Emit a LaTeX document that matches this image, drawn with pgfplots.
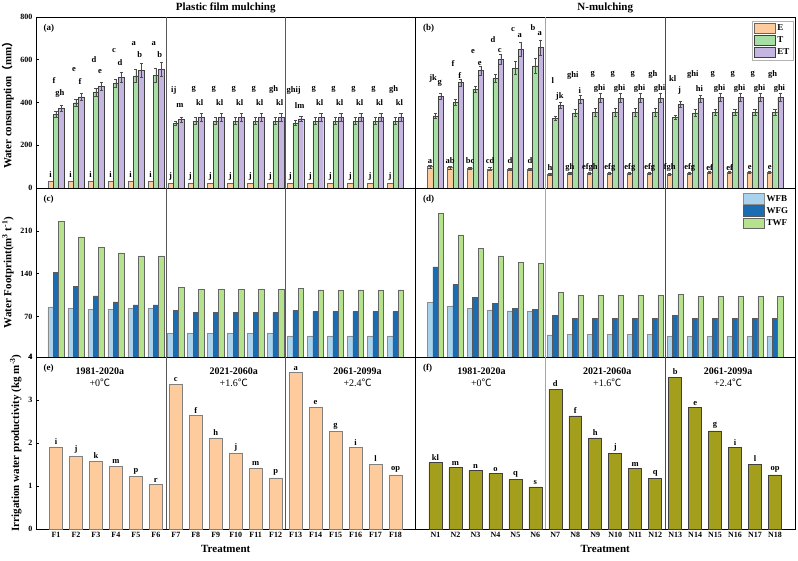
\documentclass[border=0pt]{standalone}
\usepackage{pgfplots}
\pgfplotsset{compat=1.18}
\usepackage{pgfplotstable}
\usepackage{fontspec}
\setmainfont{Liberation Serif}
\newfontfamily\cjk{Noto Sans CJK SC}

\definecolor{cE}{HTML}{FDCB9C}
\definecolor{cT}{HTML}{A6DEA3}
\definecolor{cET}{HTML}{C4B5E1}
\definecolor{cWFB}{HTML}{A9D3EC}
\definecolor{cWFG}{HTML}{1B6DB3}
\definecolor{cTWF}{HTML}{B5E28C}
\definecolor{cIF}{HTML}{FDCB9C}
\definecolor{cIN}{HTML}{A39E1C}

\pgfplotstableread{
x E T ET Terr ETerr
1 30 345 373 16 16
2 30 399 426 17 17
3 30 448 476 18 18
4 30 490 518 20 22
5 30 524 552 30 33
6 30 528 555 33 33
7 22 302 321 10 12
8 22 313 331 17 17
9 22 313 331 17 17
10 22 313 331 17 17
11 22 313 331 17 17
12 22 313 331 17 17
13 22 305 324 10 13
14 22 313 331 17 17
15 22 313 331 17 17
16 22 313 331 17 17
17 22 313 331 17 17
18 22 313 331 17 17
}\dataA

\pgfplotstableread{
x yE lE yT lT yET lET
1 62 i 505 f 440 gh
2 62 i 552 e 497 f
3 62 i 602 d 543 e
4 62 i 645 c 588 d
5 62 i 677 a 622 b
6 62 i 677 a 622 b
7 55 j 455 ij 384 m
8 55 j 462 g 401 kl
9 55 j 462 g 401 kl
10 55 j 462 g 401 kl
11 55 j 462 g 401 kl
12 55 j 462 gh 401 kl
13 55 j 458 ghij 388 lm
14 55 j 462 g 401 kl
15 55 j 462 g 401 kl
16 55 j 462 g 401 kl
17 55 j 462 g 401 kl
18 55 j 462 gh 401 kl
}\labA

\pgfplotstableread{
x E T ET Eerr Terr ETerr
1 100 337 430 6 13 15
2 95 401 494 6 15 17
3 93 462 549 6 15 20
4 90 513 602 6 17 22
5 87 561 649 6 30 33
6 87 572 658 6 33 35
7 65 326 387 5 10 13
8 67 352 415 5 15 17
9 69 355 421 5 18 20
10 69 355 421 5 18 20
11 69 355 421 5 18 20
12 69 355 421 5 18 20
13 65 332 393 5 10 15
14 70 352 418 5 15 18
15 72 355 424 5 15 18
16 72 355 424 5 15 18
17 72 355 424 5 15 18
18 72 355 424 5 15 18
}\dataB

\pgfplotstableread{
x yE lE yT lT yET lET
1 126 a 513 jk 490 g
2 126 ab 583 f 528 f
3 126 bc 638 e 583 e
4 126 cd 695 d 645 c
5 126 d 742 c 713 a
6 126 d 751 b 723 a
7 95 h 505 l 427 jk
8 95 gh 528 ghi 458 i
9 95 efgh 533 g 466 ghi
10 95 efg 533 g 466 ghi
11 95 efg 533 g 466 ghi
12 95 efg 533 gh 466 ghi
13 95 fgh 513 kl 455 j
14 95 efg 533 ghi 466 hi
15 95 ef 533 g 466 ghi
16 95 ef 533 g 466 ghi
17 95 e 533 g 466 ghi
18 95 e 533 gh 466 ghi
}\labB

\pgfplotstableread{
x WFB WFG TWF
1 86 142 225
2 83.5 119 200
3 82 104 183
4 82 94 174
5 83 89 169
6 83 89 169
7 42 80 118
8 42 76.5 115
9 42 76.5 115
10 42 76.5 115
11 42 76.5 115
12 42 76.5 115
13 38.5 80 115.5
14 38.5 78 113.5
15 38.5 78 113.5
16 38.5 78 113.5
17 38.5 78 113.5
18 38.5 78 113.5
}\dataC

\pgfplotstableread{
x WFB WFG TWF
1 92.6 151 238
2 87.6 122 203.5
3 83 101 181
4 81 91 169
5 79.3 83 159
6 78.8 81.5 157
7 40 71.5 110
8 40.7 66.7 105
9 40.7 66.7 105
10 40.7 66.7 105
11 40.7 66.7 105
12 40.7 66.7 105
13 37.4 71.6 106
14 37.4 67.2 103
15 37.4 67.2 103
16 37.4 67.2 103
17 37.4 67.2 103
18 37.4 67.2 103
}\dataD

\pgfplotstableread{
x v l
1 1.91 i
2 1.70 j
3 1.58 k
4 1.46 m
5 1.23 p
6 1.03 r
7 3.37 c
8 2.64 f
9 2.12 h
10 1.76 j
11 1.42 m
12 1.19 p
13 3.64 a
14 2.83 e
15 2.27 g
16 1.89 i
17 1.51 l
18 1.26 op
}\dataE

\pgfplotstableread{
x v l
1 1.54 kl
2 1.43 m
3 1.36 n
4 1.29 o
5 1.15 q
6 0.98 s
7 3.25 d
8 2.63 f
9 2.12 h
10 1.76 j
11 1.41 m
12 1.18 q
13 3.53 b
14 2.82 e
15 2.28 g
16 1.90 i
17 1.51 l
18 1.26 op
}\dataF

\pgfplotsset{
  panel/.style={
    scale only axis, width=379.5pt, xmin=0, xmax=19,
    xtick={1,...,18}, xticklabels={}, tick align=inside,
    xtick pos=bottom, ytick pos=left,
    major tick length=3pt, tick style={black, line width=0.5pt},
    axis line style={black, line width=0.6pt},
    tick label style={font=\bfseries\fontsize{8}{9}\selectfont},
    /pgf/number format/assume math mode=true,
    ylabel style={font=\bfseries\fontsize{11}{12}\selectfont},
    xlabel style={font=\bfseries\fontsize{11}{12}\selectfont},
    legend image code/.code={\draw[##1] (0pt,-5pt) rectangle (21pt,5.5pt);},
  },
  lab/.style={draw=none, mark=none, forget plot, point meta=explicit symbolic,
    nodes near coords, nodes near coords style={anchor=center, text=black,
    font=\bfseries\fontsize{8.5}{9}\selectfont, inner sep=0pt}},
  errs/.style={error bars/.cd, y dir=both, y explicit,
    error bar style={black!70, line width=0.5pt},
    error mark options={rotate=90, mark size=1.6pt, black!70, line width=0.5pt}},
  bA/.style={ybar, bar width=0.27, bar shift=0},
}
\tikzset{plab/.style={anchor=north west, font=\bfseries\fontsize{9}{10}\selectfont},
  ptitle/.style={anchor=base, font=\bfseries\fontsize{11}{12}\selectfont}}

\begin{document}
\begin{tikzpicture}
\useasboundingbox (0pt,0pt) rectangle (798pt,560pt);

% ---------- (a)
\begin{axis}[panel, at={(36pt,372pt)}, anchor=south west, height=171pt,
  ymin=0, ymax=800, ytick={0,200,400,600,800},
  ylabel={Water consumption{\cjk （}mm{\cjk ）}}]
\addplot[bA, fill=cE, draw=black!60, line width=0.4pt] table[x expr=\thisrow{x}-0.27,y=E]{\dataA};
\addplot[bA, fill=cT, draw=black!75, line width=0.4pt, errs] table[x=x,y=T,y error=Terr]{\dataA};
\addplot[bA, fill=cET, draw=black!75, line width=0.4pt, errs] table[x expr=\thisrow{x}+0.27,y=ET,y error=ETerr]{\dataA};
\addplot[lab] table[x expr=\thisrow{x}-0.27, y=yE, meta=lE]{\labA};
\addplot[lab] table[x expr=\thisrow{x}-0.1, y=yT, meta=lT]{\labA};
\addplot[lab] table[x expr=\thisrow{x}+0.2, y=yET, meta=lET]{\labA};
\draw[black!65, line width=0.6pt] (axis cs:6.5,0) -- (axis cs:6.5,800);
\draw[black!65, line width=0.6pt] (axis cs:12.5,0) -- (axis cs:12.5,800);
\node[plab] at (rel axis cs:0,1) [xshift=4pt, yshift=-4pt] {(a)};
\end{axis}

% ---------- (b)
\begin{axis}[panel, at={(415.5pt,372pt)}, anchor=south west, height=171pt,
  ymin=0, ymax=800, ytick=\empty,
  legend style={at={(rel axis cs:0.995,0.975)}, anchor=north east, draw=black!30, fill=white,
    font=\bfseries\fontsize{9}{10}\selectfont, row sep=0.6pt, inner sep=1.5pt},
  legend cell align=left]
\addplot[bA, fill=cE, draw=black!60, line width=0.4pt, errs] table[x expr=\thisrow{x}-0.27,y=E,y error=Eerr]{\dataB};
\addplot[bA, fill=cT, draw=black!75, line width=0.4pt, errs] table[x=x,y=T,y error=Terr]{\dataB};
\addplot[bA, fill=cET, draw=black!75, line width=0.4pt, errs] table[x expr=\thisrow{x}+0.27,y=ET,y error=ETerr]{\dataB};
\legend{E,T,ET}
\addplot[lab] table[x expr=\thisrow{x}-0.27, y=yE, meta=lE]{\labB};
\addplot[lab] table[x expr=\thisrow{x}-0.12, y=yT, meta=lT]{\labB};
\addplot[lab] table[x expr=\thisrow{x}+0.22, y=yET, meta=lET]{\labB};
\draw[black!35, line width=1pt] (axis cs:6.5,0) -- (axis cs:6.5,800);
\draw[black!70, line width=0.6pt] (axis cs:12.5,0) -- (axis cs:12.5,800);
\node[plab] at (rel axis cs:0,1) [xshift=4pt, yshift=-4pt] {(b)};
\end{axis}

% ---------- (c)
\begin{axis}[panel, at={(36pt,203pt)}, anchor=south west, height=169pt,
  ymin=4, ymax=280, ytick={4,70,140,210},
  ylabel={Water Footprint(m\textsuperscript{3} t\textsuperscript{-1})}]
\addplot[bA, fill=cWFB, draw=black!45, line width=0.5pt] table[x expr=\thisrow{x}-0.27,y=WFB]{\dataC};
\addplot[bA, fill=cWFG, draw=black!65, line width=0.5pt] table[x=x,y=WFG]{\dataC};
\addplot[bA, fill=cTWF, draw=black!60, line width=0.5pt] table[x expr=\thisrow{x}+0.27,y=TWF]{\dataC};
\draw[black!65, line width=0.6pt] (axis cs:6.5,4) -- (axis cs:6.5,280);
\draw[black!65, line width=0.6pt] (axis cs:12.5,4) -- (axis cs:12.5,280);
\node[plab] at (rel axis cs:0,1) [xshift=4pt, yshift=-4pt] {(c)};
\end{axis}

% ---------- (d)
\begin{axis}[panel, at={(415.5pt,203pt)}, anchor=south west, height=169pt,
  ymin=4, ymax=280, ytick=\empty,
  legend style={at={(rel axis cs:0.99,0.975)}, anchor=north east, draw=none, fill=none,
    font=\bfseries\fontsize{9}{10}\selectfont, row sep=0.6pt, inner sep=1pt},
  legend cell align=left]
\addplot[bA, fill=cWFB, draw=black!45, line width=0.5pt] table[x expr=\thisrow{x}-0.27,y=WFB]{\dataD};
\addplot[bA, fill=cWFG, draw=black!65, line width=0.5pt] table[x=x,y=WFG]{\dataD};
\addplot[bA, fill=cTWF, draw=black!60, line width=0.5pt] table[x expr=\thisrow{x}+0.27,y=TWF]{\dataD};
\legend{WFB,WFG,TWF}
\draw[black!35, line width=1pt] (axis cs:6.5,4) -- (axis cs:6.5,280);
\draw[black!70, line width=0.6pt] (axis cs:12.5,4) -- (axis cs:12.5,280);
\node[plab] at (rel axis cs:0,1) [xshift=4pt, yshift=-4pt] {(d)};
\end{axis}

% ---------- (e)
\begin{axis}[panel, at={(36pt,31pt)}, anchor=south west, height=172pt,
  ymin=0, ymax=4, ytick={0,1,2,3,4},
  xticklabels={F1,F2,F3,F4,F5,F6,F7,F8,F9,F10,F11,F12,F13,F14,F15,F16,F17,F18},
  xlabel={Treatment},
  ylabel={Irrigation water productivity (kg m\textsuperscript{-3})}]
\addplot[ybar, bar width=0.65, fill=cIF, draw=black!50, line width=0.6pt,
  point meta=explicit symbolic, nodes near coords,
  nodes near coords style={text=black, font=\bfseries\fontsize{8.5}{9}\selectfont, inner sep=2pt}]
  table[x=x,y=v,meta=l]{\dataE};
\draw[black!65, line width=0.6pt] (axis cs:6.5,0) -- (axis cs:6.5,4);
\draw[black!65, line width=0.6pt] (axis cs:12.5,0) -- (axis cs:12.5,4);
\node[plab] at (rel axis cs:0,1) [xshift=4pt, yshift=-4pt] {(e)};
\node[font=\bfseries\fontsize{10}{11}\selectfont] at (axis cs:3.2,3.68) {1981-2020a};
\node[font=\fontsize{10}{11}\selectfont] at (axis cs:3.2,3.39) {+0{\cjk ℃}};
\node[font=\bfseries\fontsize{10}{11}\selectfont] at (axis cs:9.9,3.68) {2021-2060a};
\node[font=\fontsize{10}{11}\selectfont] at (axis cs:9.9,3.39) {+1.6{\cjk ℃}};
\node[font=\bfseries\fontsize{10}{11}\selectfont] at (axis cs:16.1,3.68) {2061-2099a};
\node[font=\fontsize{10}{11}\selectfont] at (axis cs:16.1,3.39) {+2.4{\cjk ℃}};
\end{axis}

% ---------- (f)
\begin{axis}[panel, at={(415.5pt,31pt)}, anchor=south west, height=172pt,
  ymin=0, ymax=4, ytick=\empty,
  xticklabels={N1,N2,N3,N4,N5,N6,N7,N8,N9,N10,N11,N12,N13,N14,N15,N16,N17,N18},
  xlabel={Treatment}]
\addplot[ybar, bar width=0.65, fill=cIN, draw=black!75, line width=0.6pt,
  point meta=explicit symbolic, nodes near coords,
  nodes near coords style={text=black, font=\bfseries\fontsize{8.5}{9}\selectfont, inner sep=2pt}]
  table[x=x,y=v,meta=l]{\dataF};
\draw[black!35, line width=1pt] (axis cs:6.5,0) -- (axis cs:6.5,4);
\draw[black!70, line width=0.6pt] (axis cs:12.5,0) -- (axis cs:12.5,4);
\node[plab] at (rel axis cs:0,1) [xshift=4pt, yshift=-4pt] {(f)};
\node[font=\bfseries\fontsize{10}{11}\selectfont] at (axis cs:3.3,3.68) {1981-2020a};
\node[font=\fontsize{10}{11}\selectfont] at (axis cs:3.3,3.39) {+0{\cjk ℃}};
\node[font=\bfseries\fontsize{10}{11}\selectfont] at (axis cs:9.6,3.68) {2021-2060a};
\node[font=\fontsize{10}{11}\selectfont] at (axis cs:9.6,3.39) {+1.6{\cjk ℃}};
\node[font=\bfseries\fontsize{10}{11}\selectfont] at (axis cs:15.65,3.68) {2061-2099a};
\node[font=\fontsize{10}{11}\selectfont] at (axis cs:15.65,3.39) {+2.4{\cjk ℃}};
\end{axis}

\node[ptitle] at (225.75pt,549pt) {Plastic film mulching};
\node[ptitle] at (605.25pt,549pt) {N-mulching};
\end{tikzpicture}
\end{document}
